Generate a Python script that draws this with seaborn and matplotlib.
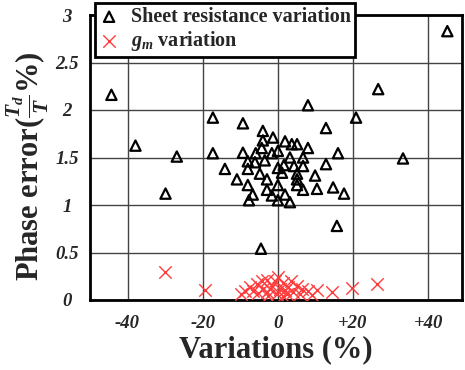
import numpy as np
import pandas as pd
import seaborn as sns
from matplotlib import pyplot as plt

# sheet resistance variation (open triangles)
sheet_x = [45.1, -44.3, 26.7, 8.0, -17.3, -9.3, 20.8, 12.8, -37.9, -26.9,
           -17.3, -9.3, -4.0, -1.3, -4.0, -4.3, 1.9, 3.7, 5.1, 8.0,
           0.0, -1.6, -5.9, 16.0, 33.3, -8.0, -6.1, -3.5, 3.2, 6.7,
           1.6, 0.0, 4.3, 6.7, 12.8, -14.1, -8.0, -4.8, 1.1, 5.1,
           9.9, -10.9, -2.9, 5.1, -8.0, 0.0, 5.1, -2.9, 6.7, 10.4,
           14.7, 17.6, -29.9, -6.7, -1.6, 1.9, -7.7, 0.0, 3.2, 15.7,
           -4.5]
sheet_y = [2.83, 2.16, 2.22, 2.05, 1.92, 1.86, 1.92, 1.81, 1.625, 1.51,
           1.545, 1.55, 1.78, 1.71, 1.68, 1.60, 1.67, 1.64, 1.64, 1.60,
           1.57, 1.545, 1.545, 1.545, 1.49, 1.46, 1.45, 1.47, 1.50, 1.50,
           1.42, 1.39, 1.41, 1.41, 1.43, 1.38, 1.38, 1.33, 1.34, 1.33,
           1.31, 1.27, 1.27, 1.27, 1.21, 1.21, 1.21, 1.16, 1.16, 1.17,
           1.185, 1.12, 1.12, 1.11, 1.10, 1.11, 1.05, 1.05, 1.03, 0.78,
           0.54]

# gm variation (red crosses)
gm_x = [-30.1, -19.5, -9.9, 10.4, 14.4, 19.7, 26.4,
        -7.5, -5.6, -4.3, -2.9, 0.0, -1.6, 1.3, 2.7, 5.1, 6.4, 8.0,
        -5.3, -2.9, -0.3, 2.4, 4.0, -6.7, -2.1, 0.5, -0.8,
        -8.8, -4.0, 1.9, 3.5, 5.9, -2.7, 1.3, 9.1]
gm_y = [0.29, 0.11, 0.06, 0.11, 0.08, 0.13, 0.17,
        0.14, 0.17, 0.20, 0.21, 0.24, 0.15, 0.18, 0.14, 0.15, 0.12, 0.10,
        0.07, 0.08, 0.06, 0.06, 0.08, 0.10, 0.12, 0.12, 0.20,
        0.10, 0.12, 0.11, 0.20, 0.06, 0.04, 0.04, 0.05]

x_ticks = [-40, -20, 0, 20, 40]
x_labels = ["-40", "-20", "0", "+20", "+40"]
y_ticks = [0, 0.5, 1, 1.5, 2, 2.5, 3]
y_labels = ["0", "0.5", "1", "1.5", "2", "2.5", "3"]

sns.set_style("white")
plt.rcParams["font.family"] = ["Liberation Serif", "DejaVu Serif"]
plt.rcParams["font.weight"] = "bold"
plt.rcParams["font.style"] = "normal"
plt.rcParams["mathtext.fontset"] = "custom"
plt.rcParams["mathtext.rm"] = "Liberation Serif:bold"
plt.rcParams["mathtext.it"] = "Liberation Serif:bold:italic"
plt.rcParams["mathtext.bf"] = "Liberation Serif:bold"

sheet = pd.DataFrame({"x": sheet_x, "y": sheet_y})
gm = pd.DataFrame({"x": gm_x, "y": gm_y})

fig, ax = plt.subplots(figsize=(4.65, 3.7), dpi=100)
fig.subplots_adjust(left=90 / 465, right=462 / 465, top=1 - 15 / 370, bottom=1 - 300 / 370)

ax.set_axisbelow(True)
ax.grid(True, color="#444444", linewidth=1.0)

sns.scatterplot(data=sheet, x="x", y="y", ax=ax, marker="^", s=55,
                color="black", facecolor="none", edgecolor="black",
                linewidth=1.6, label="Sheet resistance variation", zorder=3)
sns.scatterplot(data=gm, x="x", y="y", ax=ax, marker="x", s=80,
                color="#ff3b3b", linewidth=1.0,
                label="$g_m$ variation", zorder=3)

ax.set_xlim(-50, 49)
ax.set_ylim(0, 3)
ax.set_xticks(x_ticks)
ax.set_xticklabels(x_labels, fontsize=13.5, fontstyle="italic", fontweight="bold")
ax.set_yticks(y_ticks)
ax.set_yticklabels(y_labels, fontsize=13.5, fontstyle="italic", fontweight="bold")
for lab in ax.get_yticklabels():
    lab.set_horizontalalignment("center")
ax.tick_params(axis="y", length=0, pad=16.5)
ax.tick_params(axis="x", length=0, pad=11)

for side in ["left", "right", "top", "bottom"]:
    ax.spines[side].set_visible(True)
    ax.spines[side].set_color("black")
    ax.spines[side].set_linewidth(2.0)

ax.set_xlabel("Variations (%)", fontsize=22, fontweight="bold", labelpad=2)
ax.set_ylabel(r"Phase error($\frac{T_d}{T}$%)", fontsize=22, fontweight="bold")
ax.yaxis.set_label_coords(-0.105, 0.47)

leg = ax.legend(loc="upper left", bbox_to_anchor=(95 / 465, 1 - 3 / 370),
                bbox_transform=fig.transFigure, borderaxespad=0,
                prop={"family": "Liberation Serif", "weight": "bold",
                      "style": "normal", "size": 14.5},
                frameon=True, fancybox=False, framealpha=1, edgecolor="black",
                handlelength=1.0, handletextpad=0.6, labelspacing=0.1,
                borderpad=0.2)
leg.get_frame().set_linewidth(2.0)

fig.savefig("out.png", dpi=100)
